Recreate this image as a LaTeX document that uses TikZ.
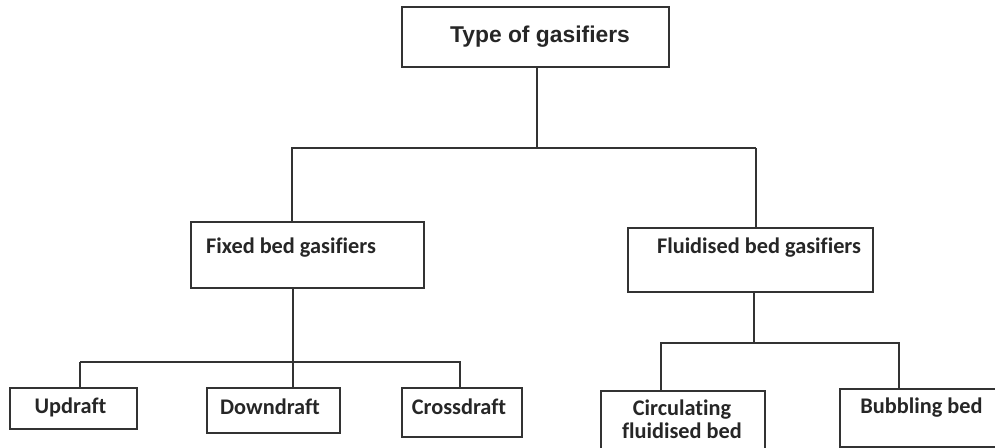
\documentclass[tikz,border=0pt]{standalone}
\usepackage{fontspec}
\newfontfamily\arialfont{Liberation Sans}
\newfontfamily\calfont[Ligatures={NoCommon}]{Carlito}
\begin{document}
\begin{tikzpicture}[x=0.02cm,y=-0.02cm,
        box/.style={draw=black!80,line width=1pt,inner sep=0pt},
        lbl/.style={font=\calfont\bfseries\fontsize{12.7}{13}\selectfont,text=black!85,inner sep=0pt,align=center},
        conn/.style={draw=black!80,line width=1pt}]
        \useasboundingbox (0,0) rectangle (995,448);
        \node[box,minimum width=5.34cm,minimum height=1.2cm] (type) at (535.5,37) {};
        \node[box,minimum width=4.66cm,minimum height=1.32cm] (fixed) at (307.5,255) {};
        \node[box,minimum width=4.9cm,minimum height=1.28cm] (fluid) at (750.5,260) {};
        \node[box,minimum width=2.54cm,minimum height=0.82cm] (up) at (73.5,408.5) {};
        \node[box,minimum width=2.66cm,minimum height=0.9cm] (down) at (273.5,410.5) {};
        \node[box,minimum width=2.4cm,minimum height=0.98cm] (cross) at (462,412.5) {};
        \node[box,minimum width=3.28cm,minimum height=1.38cm] (circ) at (683,425.5) {};
        \node[box,minimum width=3.2cm,minimum height=1.16cm] (bubb) at (920,418) {};
        \node[inner sep=0pt,font=\arialfont\bfseries\fontsize{13}{16}\selectfont,text=black!85] (typet) at (540,37) {Type of gasifiers};
        \node[lbl] (fixedt) at (291,248) {Fixed bed gasifiers};
        \node[lbl] (fluidt) at (759,248) {Fluidised bed gasifiers};
        \node[lbl] (upt) at (70.5,407) {Updraft};
        \node[lbl] (downt) at (270,407) {Downdraft};
        \node[lbl] (crosst) at (459,407) {Crossdraft};
        \node[lbl] (circt) at (682,419) {Circulating\\fluidised bed};
        \node[lbl] (bubbt) at (921.5,408) {Bubbling bed};
        \draw[conn] (537,0 |- type.south) -- (537,148) coordinate (j1);
        \draw[conn] (291,148) -- (756,148);
        \draw[conn] (292,148) -- (292,0 |- fixed.north);
        \draw[conn] (756,148) -- (756,0 |- fluid.north);
        \draw[conn] (293,0 |- fixed.south) -- (293,362) coordinate (j2);
        \draw[conn] (80,362) -- (461,362);
        \draw[conn] (80,362) -- (80,0 |- up.north);
        \draw[conn] (j2) -- (293,0 |- down.north);
        \draw[conn] (460,362) -- (460,0 |- cross.north);
        \draw[conn] (754,0 |- fluid.south) -- (754,343) coordinate (j3);
        \draw[conn] (660,343) -- (900,343);
        \draw[conn] (661,343) -- (661,0 |- circ.north);
        \draw[conn] (899,343) -- (899,0 |- bubb.north);
\end{tikzpicture}
\end{document}
